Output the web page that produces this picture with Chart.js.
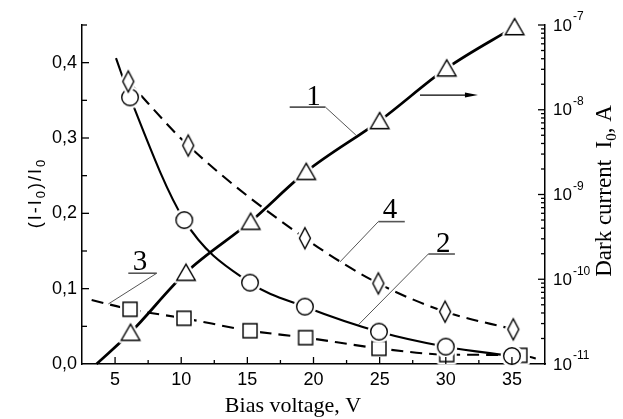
<!DOCTYPE html>
<html>
<head>
  <meta charset="utf-8">
  <title>Bias voltage</title>
  <script src="https://cdn.jsdelivr.net/npm/chart.js@4.4.0/dist/chart.umd.min.js"></script>
  <style>
    body { margin: 0; background: #fff; }
    canvas { display: block; }
  </style>
</head>
<body>
  <canvas id="chart" width="623" height="419"></canvas>

  <script>
    // curve 1 - dark current I0 (right log axis), triangles
    var bias1 = [6.17, 10.36, 15.25, 19.45, 25.0, 30.07, 35.2];
    var dark1 = [2.35e-11, 1.2e-10, 4.8e-10, 1.86e-9, 7.4e-9, 3.09e-8, 9.5e-8];
    // curve 2 - circles, solid
    var bias2 = [6.13, 10.23, 15.2, 19.35, 24.95, 30.0, 35.0];
    var rel2 = [0.354, 0.191, 0.108, 0.0761, 0.0429, 0.0230, 0.0106];
    // curve 3 - squares, dashed
    var bias3 = [6.13, 10.21, 15.2, 19.4, 24.95, 30.07, 35.6];
    var rel3 = [0.0726, 0.0607, 0.0442, 0.0350, 0.0208, 0.0125, 0.0115];
    // curve 4 - diamonds, dashed
    var bias4 = [6.0, 10.53, 19.35, 24.9, 29.95, 35.1];
    var rel4 = [0.375, 0.290, 0.167, 0.107, 0.0695, 0.046];

    // the drawn curves run a bit past the measured points
    var fit1Start = [3.6, 1e-11];
    var fit2Start = [5.07, 0.406];
    var fit3Start = [3.23, 0.085];
    var fit3End = [37.3, 0.0053];

    var xTicks = [5, 10, 15, 20, 25, 30, 35];
    var yTicks = [0, 0.1, 0.2, 0.3, 0.4];
    var logDecades = [-11, -10, -9, -8, -7];

    function pts(xs, ys) {
      return xs.map(function (x, i) { return { x: x, y: ys[i] }; });
    }

    function marker(kind) {
      var c = document.createElement('canvas');
      c.width = 30; c.height = 30;
      var g = c.getContext('2d');
      var m = 15;
      g.beginPath();
      if (kind === 'circle') g.arc(m, m, 8.3, 0, Math.PI * 2);
      else if (kind === 'triangle') { g.moveTo(m, m - 8.3); g.lineTo(m + 9.3, m + 7.7); g.lineTo(m - 9.3, m + 7.7); g.closePath(); }
      else if (kind === 'square') g.rect(m - 7, m - 7, 14, 14);
      else { g.moveTo(m, m - 10.5); g.lineTo(m + 5.5, m); g.lineTo(m, m + 10.5); g.lineTo(m - 5.5, m); g.closePath(); }
      g.lineJoin = 'round';
      g.strokeStyle = '#fff'; g.lineWidth = 6; g.stroke();
      g.fillStyle = '#fff'; g.fill();
      g.lineJoin = 'miter';
      g.strokeStyle = '#000'; g.lineWidth = 1.4; g.stroke();
      return c;
    }

    function curve(data, axis, width, dash) {
      return {
        data: data, yAxisID: axis, borderColor: '#000', borderWidth: width,
        borderDash: dash || [], pointRadius: 0, fill: false,
        cubicInterpolationMode: 'monotone', order: 2, clip: false
      };
    }
    function marks(data, axis, kind) {
      return {
        data: data, yAxisID: axis, showLine: false, pointStyle: marker(kind),
        pointRadius: 9, order: 1, clip: false
      };
    }

    var SANS = '"Liberation Sans", Arial, sans-serif';
    var SERIF = '"Liberation Serif", "Times New Roman", serif';

    // draws text parts [text, font, dy] centred on x,y, optionally rotated, with extra spacing between letters
    function rich(ctx, parts, x, y, rot, gap) {
      gap = gap || 0;
      ctx.save();
      ctx.translate(x, y);
      if (rot) ctx.rotate(rot);
      var w = 0;
      parts.forEach(function (p) {
        ctx.font = p[1];
        p[0].split('').forEach(function (ch) { w += ctx.measureText(ch).width + gap; });
      });
      w -= gap;
      var cx = -w / 2;
      parts.forEach(function (p) {
        ctx.font = p[1];
        p[0].split('').forEach(function (ch) {
          ctx.fillText(ch, cx, p[2] || 0);
          cx += ctx.measureText(ch).width + gap;
        });
      });
      ctx.restore();
    }

    var decor = {
      id: 'decor',
      afterDraw: function (chart) {
        var ctx = chart.ctx, sx = chart.scales.x, sy = chart.scales.y, s2 = chart.scales.y2;
        var a = chart.chartArea;
        ctx.save();
        ctx.strokeStyle = '#000';
        ctx.fillStyle = '#000';
        ctx.lineWidth = 1.3;

        function seg(x1, y1, x2, y2) {
          ctx.beginPath(); ctx.moveTo(x1, y1); ctx.lineTo(x2, y2); ctx.stroke();
        }

        // inward ticks
        for (var v = 2.5; v < 37.6; v += 2.5) {
          var px = sx.getPixelForValue(v);
          if (px <= a.left + 1 || px >= a.right - 1) continue;
          seg(px, a.bottom, px, a.bottom - (v % 5 === 0 ? 7 : 4));
        }
        for (var k = 1; k <= 9; k++) {
          var py = sy.getPixelForValue(k * 0.05);
          seg(a.left, py, a.left + (k % 2 === 0 ? 7 : 5), py);
        }
        logDecades.forEach(function (d) {
          var py = s2.getPixelForValue(Math.pow(10, d));
          if (d > -11) seg(a.right, py, a.right - 7, py);
          if (d < -7) {
            for (var m = 2; m <= 9; m++) {
              var pm = s2.getPixelForValue(m * Math.pow(10, d));
              seg(a.right, pm, a.right - 4, pm);
            }
          }
        });

        // right axis labels 10^n
        ctx.textBaseline = 'middle';
        logDecades.forEach(function (d) {
          var py = s2.getPixelForValue(Math.pow(10, d)) + 1;
          ctx.font = '17px ' + SANS;
          ctx.textAlign = 'left';
          ctx.fillText('10', a.right + 8, py);
          var w = ctx.measureText('10').width;
          ctx.font = '12px ' + SANS;
          ctx.fillText('-' + (-d), a.right + 8 + w + 1, py - 9);
        });

        // axis titles
        ctx.textBaseline = 'alphabetic';
        ctx.textAlign = 'left';
        rich(ctx, [['Bias voltage, V', '22px ' + SERIF]], a.left + 211, 412);
        rich(ctx, [['(I-I', '18px ' + SANS], ['0', '13px ' + SANS, 4], [')/I', '18px ' + SANS], ['0', '13px ' + SANS, 4]],
          41, 194, -Math.PI / 2, 2);
        rich(ctx, [['Dark current  I', '23px ' + SERIF], ['0', '15px ' + SERIF, 5], [', A', '23px ' + SERIF]],
          611, 191, -Math.PI / 2);

        // curve numbers with underline and leader
        var notes = [
          ['1', 20.0, 0.344, 18.2, 20.9, 0.341, 20.9, 23.2, 0.304],
          ['4', 25.78, 0.1935, 24.9, 26.9, 0.189, 24.9, 22.0, 0.1355],
          ['2', 29.81, 0.149, 28.68, 30.69, 0.146, 28.68, 23.38, 0.0518],
          ['3', 6.88, 0.1248, 6.0, 8.15, 0.1205, 8.15, 4.49, 0.0797]
        ];
        notes.forEach(function (n) {
          ctx.font = '29px ' + SERIF;
          ctx.textAlign = 'center';
          ctx.fillText(n[0], sx.getPixelForValue(n[1]), sy.getPixelForValue(n[2]));
          ctx.strokeStyle = '#555';
          ctx.lineWidth = 1.6;
          var uy = sy.getPixelForValue(n[5]);
          seg(sx.getPixelForValue(n[3]), uy, sx.getPixelForValue(n[4]), uy);
          ctx.lineWidth = 1;
          seg(sx.getPixelForValue(n[6]), uy, sx.getPixelForValue(n[7]), sy.getPixelForValue(n[8]));
        });

        // arrow pointing to the right axis
        ctx.strokeStyle = '#000';
        ctx.lineWidth = 1.2;
        var ay = sy.getPixelForValue(0.357);
        var ax1 = sx.getPixelForValue(28.05), ax2 = sx.getPixelForValue(32.43);
        seg(ax1, ay, ax2 - 6, ay);
        ctx.beginPath();
        ctx.moveTo(ax2, ay); ctx.lineTo(ax2 - 13, ay - 2.5); ctx.lineTo(ax2 - 13, ay + 2.5); ctx.closePath();
        ctx.fill();

        ctx.restore();
      }
    };

    var tickFont = { family: SANS, size: 18 };

    new Chart(document.getElementById('chart'), {
      type: 'line',
      data: {
        datasets: [
          curve([{ x: fit1Start[0], y: fit1Start[1] }].concat(pts(bias1, dark1)), 'y2', 2.7),
          curve([{ x: fit2Start[0], y: fit2Start[1] }].concat(pts(bias2, rel2)), 'y', 2.1),
          curve([{ x: fit3Start[0], y: fit3Start[1] }].concat(pts(bias3, rel3), [{ x: fit3End[0], y: fit3End[1] }]), 'y', 2.1, [12, 7]),
          curve(pts(bias4, rel4), 'y', 2.1, [12, 7]),
          marks(pts(bias1, dark1), 'y2', 'triangle'),
          marks(pts(bias4, rel4), 'y', 'diamond'),
          marks(pts(bias2, rel2), 'y', 'circle'),
          marks(pts(bias3, rel3), 'y', 'square')
        ]
      },
      options: {
        responsive: false,
        animation: false,
        layout: { padding: { top: 25, left: 0, right: 0, bottom: 0 } },
        plugins: { legend: { display: false }, tooltip: { enabled: false } },
        scales: {
          x: {
            type: 'linear', min: 2.5, max: 37.5,
            grid: { display: false, drawTicks: false },
            border: { color: '#000', width: 1.5 },
            afterBuildTicks: function (s) { s.ticks = xTicks.map(function (v) { return { value: v }; }); },
            ticks: { color: '#000', font: tickFont, padding: 5, maxRotation: 0, autoSkip: false },
            afterFit: function (s) { s.height = 55; }
          },
          y: {
            position: 'left', min: 0, max: 0.45,
            grid: { display: false, drawTicks: false },
            border: { color: '#000', width: 1.5 },
            afterBuildTicks: function (s) { s.ticks = yTicks.map(function (v) { return { value: v }; }); },
            ticks: {
              color: '#000', font: tickFont, padding: 5, autoSkip: false,
              callback: function (v) { return v.toFixed(1).replace('.', ','); }
            },
            afterFit: function (s) { s.width = 82; }
          },
          y2: {
            type: 'logarithmic', position: 'right', min: 1e-11, max: 1e-7,
            grid: { display: false, drawTicks: false },
            border: { color: '#000', width: 1.5 },
            ticks: { display: false },
            afterFit: function (s) { s.width = 78; }
          }
        }
      },
      plugins: [decor]
    });
  </script>
</body>
</html>
